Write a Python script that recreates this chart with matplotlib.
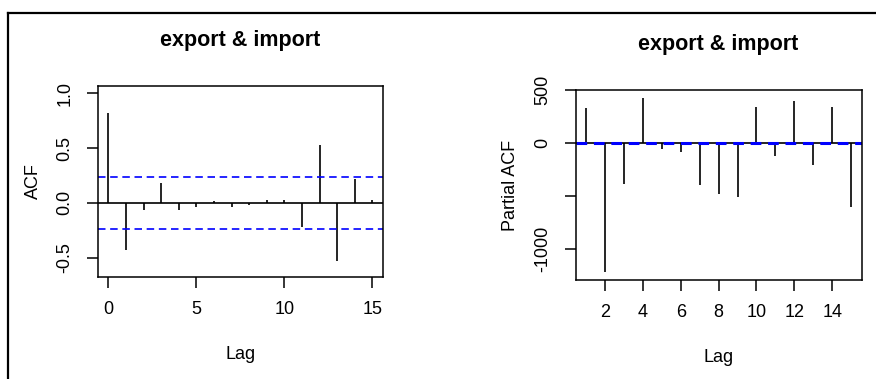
import numpy as np
import matplotlib
matplotlib.use("Agg")
import matplotlib.pyplot as plt
from matplotlib.lines import Line2D

plt.rcParams['font.family'] = ['Liberation Sans', 'DejaVu Sans']

# ACF of the series (lags 0..15)
acf_lags = np.arange(0, 16)
acf_vals = [0.823, -0.429, -0.065, 0.18, -0.065, -0.04, 0.019, -0.04,
            -0.019, 0.031, 0.031, -0.217, 0.531, -0.531, 0.22, 0.031]
acf_ci = 0.237

# partial ACF (lags 1..15)
pacf_lags = np.arange(1, 16)
pacf_vals = [327, -1216, -383, 429, -59, -80, -395, -481, -506, 339,
             -120, 401, -210, 339, -605]
pacf_ci = 3

title = "export & import"

fig = plt.figure(figsize=(8.76, 3.79), dpi=100)
W, H = 876, 379


def add_axes_px(x0, x1, ytop, ybot):
    return fig.add_axes([x0 / W, 1 - ybot / H, (x1 - x0) / W, (ybot - ytop) / H])


def style(ax):
    for s in ax.spines.values():
        s.set_linewidth(1.1)
    ax.tick_params(length=8, width=1.1, pad=9.5, labelsize=13)
    for lab in ax.get_yticklabels():
        lab.set_rotation(90)
        lab.set_va('center')


# left: ACF
ax1 = add_axes_px(97.5, 383.3, 86.2, 276.5)
ax1.vlines(acf_lags, 0, acf_vals, color='black', lw=1.2)
ax1.axhline(0, color='black', lw=1.2)
for c in (acf_ci, -acf_ci):
    ax1.axhline(c, color='blue', lw=1.2, ls=(0, (4.5, 2.8)))
ax1.set_xlim(-0.625, 15.625)
ax1.set_ylim(-0.672, 1.066)
ax1.set_xticks([0, 5, 10, 15])
ax1.set_yticks([-0.5, 0.0, 0.5, 1.0])
ax1.set_yticklabels(['-0.5', '0.0', '0.5', '1.0'])
style(ax1)
ax1.set_xlabel('Lag', fontsize=13, labelpad=20)
ax1.set_ylabel('ACF', fontsize=13, labelpad=10)
ax1.set_title(title, fontsize=15.5, fontweight='bold', pad=29)

# right: partial ACF
ax2 = add_axes_px(575.5, 861.7, 90, 280)
ax2.vlines(pacf_lags, 0, pacf_vals, color='black', lw=1.2)
ax2.axhline(0, color='black', lw=1.2)
ax2.axhline(0, color='blue', lw=2.2, ls=(0, (3.5, 2.2)))
ax2.set_xlim(0.44, 15.56)
ax2.set_ylim(-1289, 500)
ax2.set_xticks([2, 4, 6, 8, 10, 12, 14])
ax2.set_yticks([-1000, -500, 0, 500])
ax2.set_yticklabels(['-1000', '', '0', '500'])
style(ax2)
ax2.set_xlabel('Lag', fontsize=13, labelpad=20)
ax2.set_ylabel('Partial ACF', fontsize=13, labelpad=11)
ax2.set_title(title, fontsize=15.5, fontweight='bold', pad=29)

# outer frame (left and top edges only)
fig.add_artist(Line2D([7.5 / W, 7.5 / W], [0, 1 - 12.5 / H], color='black', lw=1.6,
                      transform=fig.transFigure))
fig.add_artist(Line2D([7.5 / W, 1], [1 - 12.5 / H, 1 - 12.5 / H], color='black', lw=1.6,
                      transform=fig.transFigure))

fig.savefig("out.png", dpi=100)
